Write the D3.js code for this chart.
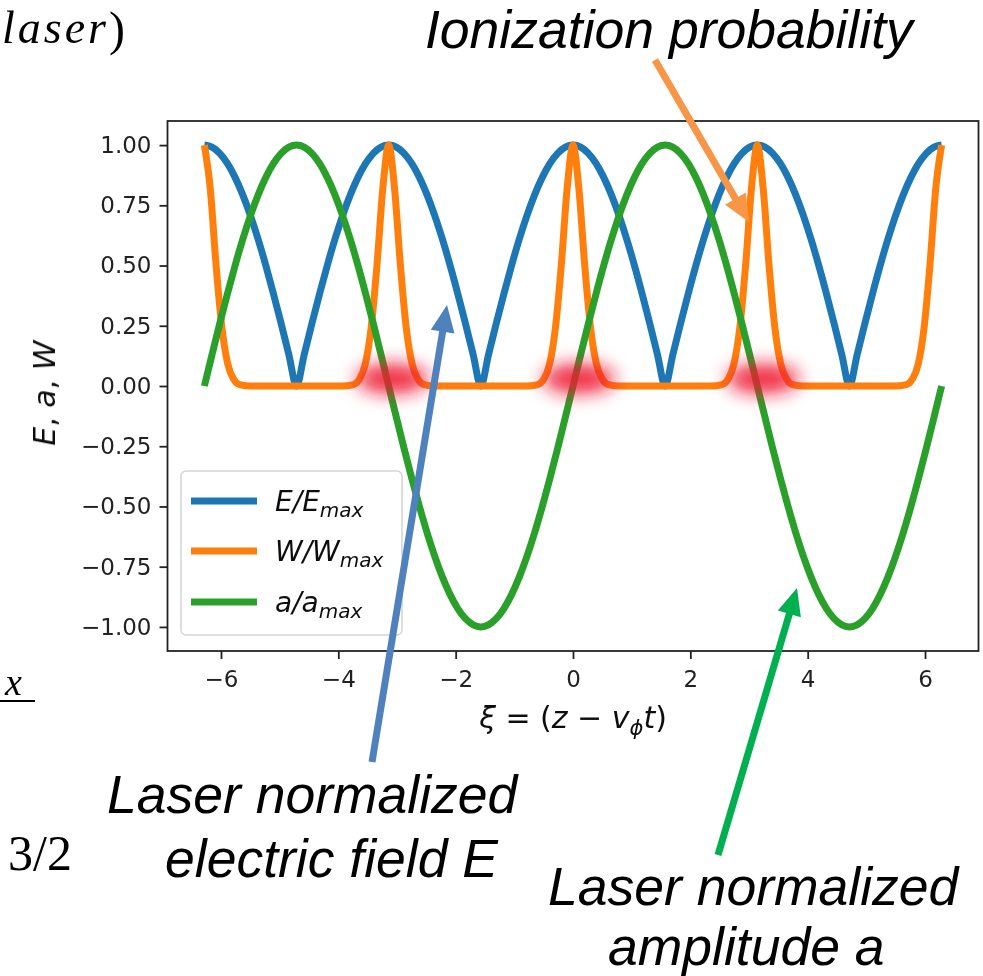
<!DOCTYPE html>
<html>
<head>
<meta charset="utf-8">
<script src="https://cdn.jsdelivr.net/npm/d3@7"></script>
<style>
  html, body { margin: 0; padding: 0; background: #fff; }
  svg { display: block; }
</style>
</head>
<body>
<svg id="fig" width="983" height="976"></svg>
<script>
// Phase coordinate ξ, sampled every π/24 over [-2π, 2π]
const xi = [
  -6.2832, -6.1523, -6.0214, -5.8905, -5.7596, -5.6287, -5.4978, -5.3669, -5.2360, -5.1051, -4.9742, -4.8433,
  -4.7124, -4.5815, -4.4506, -4.3197, -4.1888, -4.0579, -3.9270, -3.7961, -3.6652, -3.5343, -3.4034, -3.2725,
  -3.1416, -3.0107, -2.8798, -2.7489, -2.6180, -2.4871, -2.3562, -2.2253, -2.0944, -1.9635, -1.8326, -1.7017,
  -1.5708, -1.4399, -1.3090, -1.1781, -1.0472, -0.9163, -0.7854, -0.6545, -0.5236, -0.3927, -0.2618, -0.1309,
   0.0000,  0.1309,  0.2618,  0.3927,  0.5236,  0.6545,  0.7854,  0.9163,  1.0472,  1.1781,  1.3090,  1.4399,
   1.5708,  1.7017,  1.8326,  1.9635,  2.0944,  2.2253,  2.3562,  2.4871,  2.6180,  2.7489,  2.8798,  3.0107,
   3.1416,  3.2725,  3.4034,  3.5343,  3.6652,  3.7961,  3.9270,  4.0579,  4.1888,  4.3197,  4.4506,  4.5815,
   4.7124,  4.8433,  4.9742,  5.1051,  5.2360,  5.3669,  5.4978,  5.6287,  5.7596,  5.8905,  6.0214,  6.1523,
   6.2832
];

// E / E_max
const eField = [
  1, 0.9914, 0.9659, 0.9239, 0.8660, 0.7934, 0.7071, 0.6088, 0.5, 0.3827, 0.2588, 0.1305,
  0, 0.1305, 0.2588, 0.3827, 0.5, 0.6088, 0.7071, 0.7934, 0.8660, 0.9239, 0.9659, 0.9914,
  1, 0.9914, 0.9659, 0.9239, 0.8660, 0.7934, 0.7071, 0.6088, 0.5, 0.3827, 0.2588, 0.1305,
  0, 0.1305, 0.2588, 0.3827, 0.5, 0.6088, 0.7071, 0.7934, 0.8660, 0.9239, 0.9659, 0.9914,
  1, 0.9914, 0.9659, 0.9239, 0.8660, 0.7934, 0.7071, 0.6088, 0.5, 0.3827, 0.2588, 0.1305,
  0, 0.1305, 0.2588, 0.3827, 0.5, 0.6088, 0.7071, 0.7934, 0.8660, 0.9239, 0.9659, 0.9914,
  1, 0.9914, 0.9659, 0.9239, 0.8660, 0.7934, 0.7071, 0.6088, 0.5, 0.3827, 0.2588, 0.1305,
  0, 0.1305, 0.2588, 0.3827, 0.5, 0.6088, 0.7071, 0.7934, 0.8660, 0.9239, 0.9659, 0.9914,
  1
];

// a / a_max
const amplitude = [
  0, 0.1305, 0.2588, 0.3827, 0.5, 0.6088, 0.7071, 0.7934, 0.8660, 0.9239, 0.9659, 0.9914,
  1, 0.9914, 0.9659, 0.9239, 0.8660, 0.7934, 0.7071, 0.6088, 0.5, 0.3827, 0.2588, 0.1305,
  0, -0.1305, -0.2588, -0.3827, -0.5, -0.6088, -0.7071, -0.7934, -0.8660, -0.9239, -0.9659, -0.9914,
  -1, -0.9914, -0.9659, -0.9239, -0.8660, -0.7934, -0.7071, -0.6088, -0.5, -0.3827, -0.2588, -0.1305,
  0, 0.1305, 0.2588, 0.3827, 0.5, 0.6088, 0.7071, 0.7934, 0.8660, 0.9239, 0.9659, 0.9914,
  1, 0.9914, 0.9659, 0.9239, 0.8660, 0.7934, 0.7071, 0.6088, 0.5, 0.3827, 0.2588, 0.1305,
  0, -0.1305, -0.2588, -0.3827, -0.5, -0.6088, -0.7071, -0.7934, -0.8660, -0.9239, -0.9659, -0.9914,
  -1, -0.9914, -0.9659, -0.9239, -0.8660, -0.7934, -0.7071, -0.6088, -0.5, -0.3827, -0.2588, -0.1305,
  0
];

// W / W_max: narrow ionization bursts at the field maxima (denser sampling near each burst)
const wXi = [
  -6.2832, -6.1832, -6.0832, -5.9832, -5.8832, -5.7832, -5.6832, -5.4832,
  -3.9416, -3.7416, -3.6416, -3.5416, -3.4416, -3.3416, -3.2416, -3.1416,
  -3.0416, -2.9416, -2.8416, -2.7416, -2.6416, -2.5416, -2.3416,
  -0.8, -0.6, -0.5, -0.4, -0.3, -0.2, -0.1, 0, 0.1, 0.2, 0.3, 0.4, 0.5, 0.6, 0.8,
  2.3416, 2.5416, 2.6416, 2.7416, 2.8416, 2.9416, 3.0416, 3.1416,
  3.2416, 3.3416, 3.4416, 3.5416, 3.6416, 3.7416, 3.9416,
  5.4832, 5.6832, 5.7832, 5.8832, 5.9832, 6.0832, 6.1832, 6.2832
];
const wProb = [
  1, 0.82, 0.50, 0.24, 0.09, 0.028, 0.006, 0,
  0, 0.006, 0.028, 0.09, 0.24, 0.50, 0.82, 1,
  0.82, 0.50, 0.24, 0.09, 0.028, 0.006, 0,
  0, 0.006, 0.028, 0.09, 0.24, 0.50, 0.82, 1, 0.82, 0.50, 0.24, 0.09, 0.028, 0.006, 0,
  0, 0.006, 0.028, 0.09, 0.24, 0.50, 0.82, 1,
  0.82, 0.50, 0.24, 0.09, 0.028, 0.006, 0,
  0, 0.006, 0.028, 0.09, 0.24, 0.50, 0.82, 1
];

// Ionization zones highlighted along ξ (centre ξ, level)
const glowXi = [-3.08, 0.10, 3.24];
const glowLevel = 0.03;

const xTicks = [-6, -4, -2, 0, 2, 4, 6];
const yTicks = [-1, -0.75, -0.5, -0.25, 0, 0.25, 0.5, 0.75, 1];
const seriesColors = ["#1f77b4", "#ff7f0e", "#2ca02c"];
const legendMain = ["E/E", "W/W", "a/a"];
const legendSub = ["max", "max", "max"];

const svg = d3.select("#fig");
const defs = svg.append("defs");
defs.append("filter").attr("id", "soft")
  .attr("x", "-5%").attr("y", "-5%").attr("width", "110%").attr("height", "110%")
  .append("feGaussianBlur").attr("stdDeviation", 0.6);
defs.append("filter").attr("id", "glow")
  .attr("x", "-100%").attr("y", "-100%").attr("width", "300%").attr("height", "300%")
  .append("feGaussianBlur").attr("stdDeviation", 9);

const plotL = 167.5, plotR = 978.5, plotT = 121, plotB = 651;
const x = d3.scaleLinear().domain([-6.9115, 6.9115]).range([plotL, plotR]);
const y = d3.scaleLinear().domain([-1.1, 1.1]).range([plotB, plotT]);

const chart = svg.append("g").attr("filter", "url(#soft)");

const mono = d3.line().curve(d3.curveMonotoneX);
function path(xs, ys) { return mono(xs.map((v, i) => [x(v), y(ys[i])])); }

const curves = chart.append("g").attr("fill", "none").attr("stroke-width", 7);
curves.append("path").attr("d", path(xi, eField)).attr("stroke", seriesColors[0]);
curves.append("path").attr("d", path(wXi, wProb)).attr("stroke", seriesColors[1]);
curves.append("path").attr("d", path(xi, amplitude)).attr("stroke", seriesColors[2]);

// axes
const fmt = d3.format(".2f");
const xAxis = chart.append("g").attr("transform", `translate(0,${plotB})`)
  .call(d3.axisBottom(x).tickValues(xTicks).tickSize(8).tickPadding(8).tickFormat(d3.format("d")));
const yAxis = chart.append("g").attr("transform", `translate(${plotL},0)`)
  .call(d3.axisLeft(y).tickValues(yTicks).tickSize(8).tickPadding(8).tickFormat(fmt));
[xAxis, yAxis].forEach(g => {
  g.select(".domain").remove();
  g.selectAll(".tick line").attr("stroke", "#222").attr("stroke-width", 1.8);
  g.selectAll(".tick text").attr("fill", "#222")
    .style("font-family", "DejaVu Sans").style("font-size", "23px");
});
xAxis.selectAll(".tick text").attr("dy", "0.85em");

chart.append("rect").attr("x", plotL).attr("y", plotT)
  .attr("width", plotR - plotL).attr("height", plotB - plotT)
  .attr("fill", "none").attr("stroke", "#222").attr("stroke-width", 1.8);

// axis labels
const xl = chart.append("text").attr("x", x(0)).attr("y", 728)
  .attr("text-anchor", "middle").attr("fill", "#111")
  .style("font-family", "DejaVu Sans").style("font-size", "30px");
xl.append("tspan").attr("font-style", "italic").text("ξ");
xl.append("tspan").text(" = (");
xl.append("tspan").attr("font-style", "italic").text("z");
xl.append("tspan").text(" − ");
xl.append("tspan").attr("font-style", "italic").text("v");
xl.append("tspan").attr("font-style", "italic").attr("font-size", "21px").attr("dy", 7).text("ϕ");
xl.append("tspan").attr("font-style", "italic").attr("dy", -7).text("t");
xl.append("tspan").text(")");

const yl = chart.append("text").attr("transform", `translate(55,${y(-0.03)}) rotate(-90)`)
  .attr("text-anchor", "middle").attr("fill", "#111")
  .style("font-family", "DejaVu Sans").style("font-size", "30px");
yl.append("tspan").attr("font-style", "italic").text("E");
yl.append("tspan").text(", ");
yl.append("tspan").attr("font-style", "italic").text("a");
yl.append("tspan").text(", ");
yl.append("tspan").attr("font-style", "italic").text("W");

// legend
const lg = chart.append("g");
lg.append("rect").attr("x", 181).attr("y", 471).attr("width", 221).attr("height", 164)
  .attr("rx", 5).attr("fill", "#fff").attr("fill-opacity", 0.8)
  .attr("stroke", "#d4d4d4").attr("stroke-width", 1.5);
const rowY = [501, 551, 602];
legendMain.forEach((t, i) => {
  lg.append("line").attr("x1", 191).attr("x2", 257).attr("y1", rowY[i]).attr("y2", rowY[i])
    .attr("stroke", seriesColors[i]).attr("stroke-width", 7);
  const tx = lg.append("text").attr("x", 275).attr("y", rowY[i] + 10).attr("fill", "#111")
    .style("font-family", "DejaVu Sans").style("font-size", "28px").style("font-style", "italic");
  tx.append("tspan").text(t);
  tx.append("tspan").attr("dy", 6).attr("font-size", "20px").text(legendSub[i]);
});

// ionization zones glow
const glow = svg.append("g").attr("filter", "url(#glow)");
glowXi.forEach(g => {
  glow.append("ellipse").attr("cx", x(g)).attr("cy", y(glowLevel))
    .attr("rx", 36).attr("ry", 15).attr("fill", "#ee1530").attr("fill-opacity", 0.9);
});

// annotations
function arrow(x1, y1, x2, y2, color, w, hl, hw) {
  const dx = x2 - x1, dy = y2 - y1, L = Math.hypot(dx, dy);
  const ux = dx / L, uy = dy / L, px = -uy, py = ux;
  const bx = x2 - ux * hl, by = y2 - uy * hl;
  svg.append("line").attr("x1", x1).attr("y1", y1).attr("x2", bx + ux * 2).attr("y2", by + uy * 2)
    .attr("stroke", color).attr("stroke-width", w);
  svg.append("polygon").attr("fill", color)
    .attr("points", [[x2, y2], [bx + px * hw / 2, by + py * hw / 2], [bx - px * hw / 2, by - py * hw / 2]].join(" "));
}
arrow(655, 60, 749, 222, "#f79646", 7, 27, 24);
arrow(372, 762, 447, 305, "#4f81bd", 7, 27, 24);
arrow(718, 855, 797, 588, "#00b050", 7, 27, 24);

const note = (tx, ty, s) => svg.append("text").attr("x", tx).attr("y", ty).attr("fill", "#000")
  .style("font-family", "Liberation Sans, Arial").style("font-style", "italic").style("font-size", "53.5px").text(s);
note(425, 48, "Ionization probability");
note(107, 813, "Laser normalized");
note(165, 877, "electric field E");
note(548, 905, "Laser normalized");
note(608, 965, "amplitude a");

// pieces of the neighbouring equations
svg.append("text").attr("x", 2).attr("y", 43)
  .style("font-family", "Liberation Serif").style("font-style", "italic").style("font-size", "46px")
  .attr("letter-spacing", 3).text("laser");
svg.append("text").attr("x", 109).attr("y", 45)
  .style("font-family", "Liberation Serif").style("font-size", "48px").text(")");
svg.append("text").attr("x", 5).attr("y", 695)
  .style("font-family", "Liberation Serif").style("font-style", "italic").style("font-size", "38px").text("x");
svg.append("line").attr("x1", 0).attr("x2", 35).attr("y1", 701).attr("y2", 701)
  .attr("stroke", "#000").attr("stroke-width", 2.2);
svg.append("text").attr("x", 72).attr("y", 870).attr("text-anchor", "end")
  .style("font-family", "Liberation Serif").style("font-size", "50px").text("3/2");
</script>
</body>
</html>
